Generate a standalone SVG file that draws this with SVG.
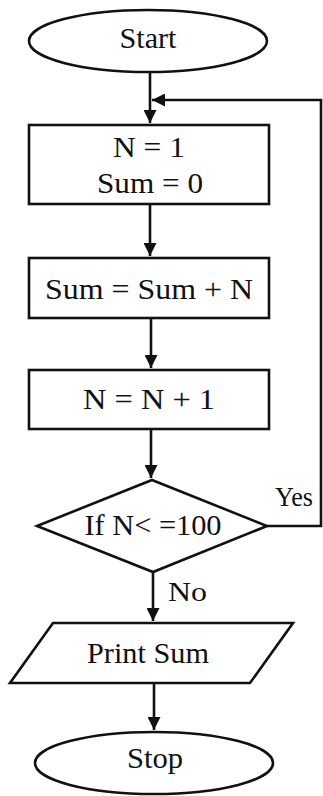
<svg xmlns="http://www.w3.org/2000/svg" width="323" height="796" viewBox="0 0 323 796">
<defs>
<style>
.s{fill:#fff;stroke:#111;stroke-width:2.6}
.c{fill:none;stroke:#111;stroke-width:2.6}
.t{font-family:"Liberation Serif","Times New Roman",serif;font-size:29px;fill:#111;text-anchor:middle}
.l{font-family:"Liberation Serif","Times New Roman",serif;font-size:28px;fill:#111}
</style>
<marker id="a" viewBox="0 0 10 10" refX="10" refY="5" markerWidth="5" markerHeight="5" orient="auto" markerUnits="strokeWidth">
<path d="M0,0 L10,5 L0,10 z" fill="#111"/>
</marker>
</defs>
<rect width="323" height="796" fill="#fff"/>
<g id="connectors">
<path class="c" d="M150,72 V123" marker-end="url(#a)"/>
<path class="c" d="M150,204 V256" marker-end="url(#a)"/>
<path class="c" d="M151,318 V368" marker-end="url(#a)"/>
<path class="c" d="M151,429 V478" marker-end="url(#a)"/>
<path class="c" d="M153,572 V621" marker-end="url(#a)"/>
<path class="c" d="M154,683 V730" marker-end="url(#a)"/>
<path class="c" d="M267,526 H321 V100 H152" marker-end="url(#a)"/>
<text class="l" x="275" y="506" textLength="38" lengthAdjust="spacingAndGlyphs">Yes</text>
<text class="l" x="168" y="601" textLength="39" lengthAdjust="spacingAndGlyphs">No</text>
</g>
<g id="start">
<ellipse class="s" cx="148" cy="41" rx="119" ry="31"/>
<text class="t" x="148" y="48" textLength="57" lengthAdjust="spacingAndGlyphs">Start</text>
</g>
<g id="init">
<rect class="s" x="29" y="125" width="240" height="79"/>
<text class="t" x="149" y="157" textLength="72" lengthAdjust="spacingAndGlyphs">N = 1</text>
<text class="t" x="150" y="193" textLength="106" lengthAdjust="spacingAndGlyphs">Sum = 0</text>
</g>
<g id="add">
<rect class="s" x="29" y="258" width="240" height="60"/>
<text class="t" x="149" y="299" textLength="208" lengthAdjust="spacingAndGlyphs">Sum = Sum + N</text>
</g>
<g id="inc">
<rect class="s" x="29" y="370" width="240" height="59"/>
<text class="t" x="149" y="409" textLength="132" lengthAdjust="spacingAndGlyphs">N = N + 1</text>
</g>
<g id="decision">
<polygon class="s" points="152,480 267,526 153,572 37,526"/>
<text class="t" x="153" y="535" textLength="137" lengthAdjust="spacingAndGlyphs">If N&lt; =100</text>
</g>
<g id="print">
<polygon class="s" points="53,623 293,623 250,683 10,683"/>
<text class="t" x="148" y="663" textLength="122" lengthAdjust="spacingAndGlyphs">Print Sum</text>
</g>
<g id="stop">
<ellipse class="s" cx="154" cy="763" rx="119" ry="31"/>
<text class="t" x="155" y="768" textLength="56" lengthAdjust="spacingAndGlyphs">Stop</text>
</g>
</svg>
